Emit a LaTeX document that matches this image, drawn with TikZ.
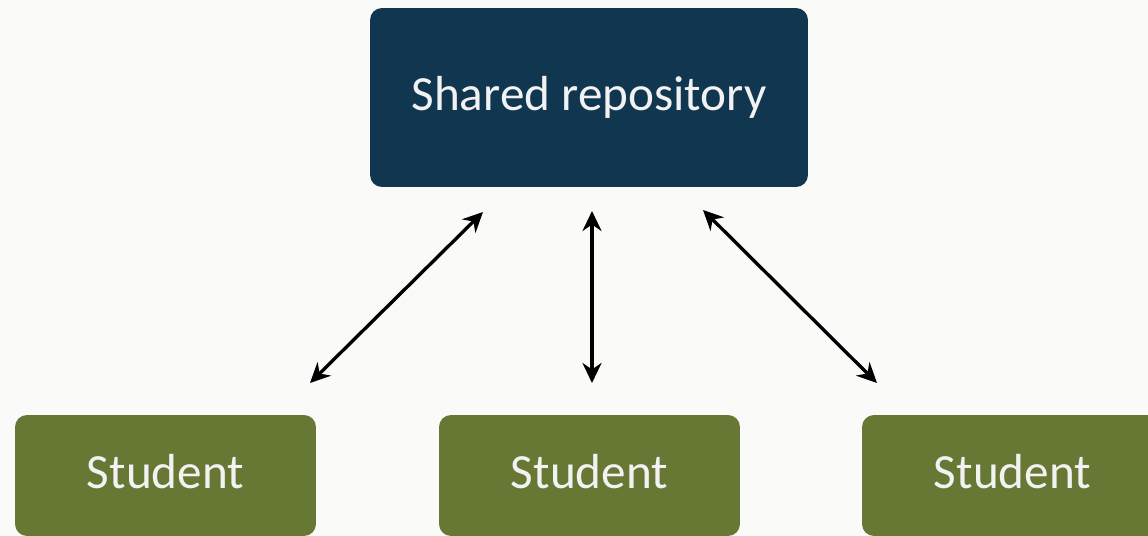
\documentclass[tikz,border=0pt]{standalone}
\usepackage{fontspec}
\newfontfamily\boxfont{Carlito}
\usetikzlibrary{arrows.meta, positioning}

\definecolor{repoblue}{HTML}{11364F}
\definecolor{studentgreen}{HTML}{677834}
\definecolor{paper}{HTML}{FAFAF8}
\definecolor{boxtext}{HTML}{F2F2F2}

\begin{document}
\begin{tikzpicture}[
	x=0.02cm, y=-0.02cm,
	repo/.style={rectangle, rounded corners=0.24cm, minimum width=8.76cm, minimum height=3.58cm, text centered, fill=repoblue, text=boxtext, font=\boxfont\fontsize{28}{32}\selectfont},
	student/.style={rectangle, rounded corners=0.24cm, minimum width=6.02cm, minimum height=2.42cm, text depth=0.16cm, text centered, fill=studentgreen, text=boxtext, font=\boxfont\fontsize{28}{32}\selectfont},
	arrow/.style={line width=1.9pt, {Stealth[length=4mm, width=3.8mm]}-{Stealth[length=4mm, width=3.8mm]}}
	]
	
	% background and picture size
	\fill[paper] (0,0) rectangle (1148,536);
	\useasboundingbox (0,0) rectangle (1148,536);
	
	% shared repository
	\node (repo) [repo] at (589,97.5) {Shared repository};
	
	% students
	\node (studentleft) [student] at (165.5,475.5) {Student};
	\node (studentmid) [student] at (589.5,475.5) {Student};
	\node (studentright) [student] at (1012.5,475.5) {Student};
	
	% arrow ends
	\coordinate (lefttop) at (483,212);
	\coordinate (leftbot) at (310,383);
	\coordinate (midtop) at (592,211);
	\coordinate (midbot) at (592,383);
	\coordinate (righttop) at (703,210);
	\coordinate (rightbot) at (877,383);
	
	% arrows
	\draw [arrow] (leftbot) -- (lefttop);
	\draw [arrow] (midbot) -- (midtop);
	\draw [arrow] (rightbot) -- (righttop);
	
\end{tikzpicture}
\end{document}
